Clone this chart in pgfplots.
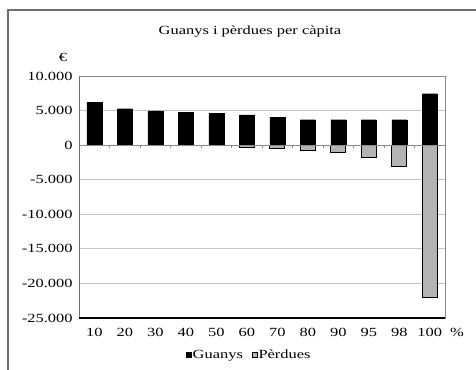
\documentclass[border=0pt]{standalone}
\usepackage{fontspec}
\setmainfont{Liberation Serif}[FakeStretch=1.32]
\usepackage{pgfplots}
\pgfplotsset{compat=1.18}
\definecolor{gridgray}{HTML}{C4C4C4}
\definecolor{lossgray}{HTML}{B4B4B4}
\definecolor{framegray}{HTML}{6E6E6E}
\definecolor{axisgray}{HTML}{8A8A8A}

\begin{document}
\fontsize{12.5}{14}\selectfont
\begin{tikzpicture}[x=1bp,y=1bp]
\useasboundingbox (0,0) rectangle (476,369);
% outer chart frame
\draw[framegray, line width=1.6bp] (8,-5) -- (8,359) -- (481,359);
\node at (250,337) {Guanys i pèrdues per càpita};
\node at (63,312) {€};
\node[anchor=base] at (457,32.3) {\%};
\begin{axis}[
  at={(79bp,51bp)}, anchor=south west, scale only axis,
  width=366bp, height=242bp,
  xmin=-0.5, xmax=11.5, ymin=-25000, ymax=10000,
  scaled y ticks=false,
  xtick={0,...,11},
  xticklabels={10,20,30,40,50,60,70,80,90,95,98,100},
  ytick={-25000,-20000,-15000,-10000,-5000,0,5000,10000},
  yticklabels={-25.000,-20.000,-15.000,-10.000,-5.000,0,5.000,10.000},
  major tick length=0pt,
  xticklabel style={anchor=base, yshift=-18.7bp},
  yticklabel style={xshift=-2bp},
  ymajorgrids, grid style={gridgray, line width=0.9bp},
  axis line style={axisgray, line width=0.9bp},
  legend columns=2,
  legend style={draw=none, fill=none, at={(0.464,-0.153)}, anchor=center,
    /tikz/every even column/.append style={column sep=8bp},
    inner sep=0pt, nodes={inner sep=1bp}},
  legend image code/.code={\draw[#1, line width=0.6bp] (0bp,-2.5bp) rectangle (5bp,2.5bp);},
]
% gains per percentile
\addplot[ybar, bar shift=0pt, bar width=15bp, fill=black, draw=black]
  coordinates {(0,6140) (1,5270) (2,4940) (3,4750) (4,4550) (5,4360)
               (6,4030) (7,3680) (8,3680) (9,3680) (10,3680) (11,7440)};
\addlegendentry{Guanys}
% losses per percentile
\addplot[ybar, bar shift=0pt, bar width=15bp, fill=lossgray, draw=black, line width=0.8bp]
  coordinates {(5,-300) (6,-500) (7,-700) (8,-1050) (9,-1720) (10,-3030) (11,-22000)};
\addlegendentry{Pèrdues}
% zero line with category tick marks
\draw[axisgray, line width=0.9bp] (axis cs:-0.5,0) -- (axis cs:11.5,0);
\foreach \t in {0.5,1.5,2.5,3.5,4.5,5.5,6.5,7.5,8.5,9.5,10.5}{
  \edef\tickcmd{\noexpand\draw[axisgray, line width=0.8bp] (axis cs:\t,0) -- (axis cs:\t,-430);}
  \tickcmd
}
% left and bottom axis lines
\draw[framegray, line width=1.2bp] (rel axis cs:0,0) -- (rel axis cs:0,1);
\draw[black, line width=1.2bp] (rel axis cs:0,0) -- (rel axis cs:1,0);
\end{axis}
\end{tikzpicture}
\end{document}
